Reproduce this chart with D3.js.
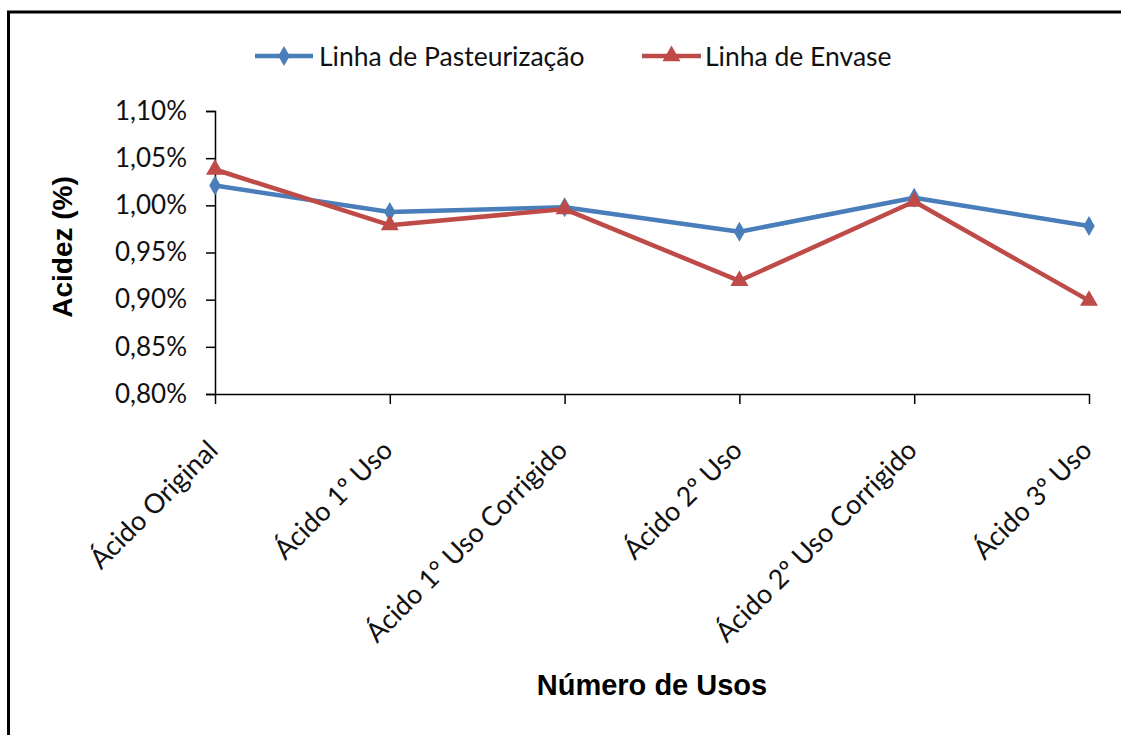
<!DOCTYPE html>
<html>
<head>
<meta charset="utf-8">
<script src="https://cdn.jsdelivr.net/npm/d3@7"></script>
<style>
  html, body { margin: 0; padding: 0; background: #fff; }
  svg { display: block; }
</style>
</head>
<body>
<svg id="chart" width="1121" height="735"></svg>
<script>
// ---- data ----
const categories = [
  "Ácido Original",
  "Ácido 1º Uso",
  "Ácido 1° Uso Corrigido",
  "Ácido 2º Uso",
  "Ácido 2º Uso Corrigido",
  "Ácido 3º Uso"
];
const seriesNames = ["Linha de Pasteurização", "Linha de Envase"];
const pasteurizacao = [1.021, 0.993, 0.998, 0.972, 1.008, 0.978];
const envase = [1.038, 0.979, 0.996, 0.920, 1.004, 0.899];
const yTicks = [0.80, 0.85, 0.90, 0.95, 1.00, 1.05, 1.10];
const yTitle = "Acidez (%)";
const xTitle = "Número de Usos";

// ---- layout ----
const svg = d3.select("#chart");
const plotL = 215, plotR = 1089, plotT = 111, plotB = 394;
const blue = "#4A7EBB", red = "#BE4B48";
const labelFont = "Lato, 'Open Sans', sans-serif";
const titleFont = "'Liberation Sans', Arial, sans-serif";
const labelWeight = 400;

// frame (only top and left edges visible in reference)
svg.append("rect").attr("x", 8.5).attr("y", 12).attr("width", 1200).attr("height", 800)
  .attr("fill", "#fff").attr("stroke", "#000").attr("stroke-width", 3);

const x = d3.scalePoint().domain(categories).range([plotL, plotR]);
const y = d3.scaleLinear().domain([0.80, 1.10]).range([plotB, plotT]);

const loc = d3.formatLocale({decimal: ",", thousands: ".", grouping: [3], currency: ["", ""]});
const fmt = v => loc.format(".2f")(v) + "%";

// y axis
const gy = svg.append("g").attr("transform", `translate(${plotL},0)`)
  .call(d3.axisLeft(y).tickValues(yTicks).tickFormat(fmt).tickSize(9).tickPadding(19));
gy.select(".domain").attr("stroke", "#000").attr("stroke-width", 1.5);
gy.selectAll(".tick line").attr("stroke", "#000").attr("stroke-width", 1.5);
gy.selectAll(".tick text").attr("font-family", labelFont).attr("font-size", 26)
  .attr("font-weight", labelWeight).attr("fill", "#111");

// x axis
const gx = svg.append("g").attr("transform", `translate(0,${plotB})`)
  .call(d3.axisBottom(x).tickSize(10).tickSizeOuter(0));
gx.select(".domain").attr("stroke", "#000").attr("stroke-width", 1.5);
gx.selectAll(".tick line").attr("stroke", "#000").attr("stroke-width", 1.5);
gx.selectAll(".tick text")
  .attr("font-family", labelFont).attr("font-size", 27).attr("font-weight", labelWeight).attr("fill", "#111")
  .attr("text-anchor", "end").attr("dy", null).attr("y", 0)
  .attr("transform", "translate(4,58) rotate(-45)");

// lines
const line = d3.line().x((d, i) => x(categories[i])).y(d => y(d));
const series = [
  {name: seriesNames[0], values: pasteurizacao, color: blue, shape: d3.symbolDiamond, size: 115},
  {name: seriesNames[1], values: envase, color: red, shape: d3.symbolTriangle, size: 140}
];
series.forEach(s => {
  svg.append("path").datum(s.values).attr("d", line)
    .attr("fill", "none").attr("stroke", s.color).attr("stroke-width", 4.5)
    .attr("stroke-linejoin", "round");
  svg.append("g").selectAll("path").data(s.values).join("path")
    .attr("d", d3.symbol().type(s.shape).size(s.size))
    .attr("transform", (d, i) => `translate(${x(categories[i])},${y(d)})`)
    .attr("fill", s.color);
});

// legend
const legendItems = [
  {x0: 255, x1: 313, tx: 319},
  {x0: 642, x1: 701, tx: 705}
];
const ly = 56;
series.forEach((s, i) => {
  const L = legendItems[i];
  svg.append("line").attr("x1", L.x0).attr("x2", L.x1).attr("y1", ly).attr("y2", ly)
    .attr("stroke", s.color).attr("stroke-width", 4.5);
  svg.append("path").attr("d", d3.symbol().type(s.shape).size(s.size))
    .attr("transform", `translate(${(L.x0 + L.x1) / 2},${ly})`).attr("fill", s.color);
  svg.append("text").attr("x", L.tx).attr("y", ly).attr("dy", "0.36em")
    .attr("font-family", labelFont).attr("font-size", 26.5).attr("font-weight", labelWeight)
    .attr("fill", "#111").text(s.name);
});

// axis titles
svg.append("text").attr("transform", "translate(72,247) rotate(-90)")
  .attr("text-anchor", "middle").attr("font-family", titleFont).attr("font-weight", "bold")
  .attr("font-size", 28).attr("fill", "#000").text(yTitle);
svg.append("text").attr("x", 652).attr("y", 695)
  .attr("text-anchor", "middle").attr("font-family", titleFont).attr("font-weight", "bold")
  .attr("font-size", 29).attr("fill", "#000").text(xTitle);
</script>
</body>
</html>
